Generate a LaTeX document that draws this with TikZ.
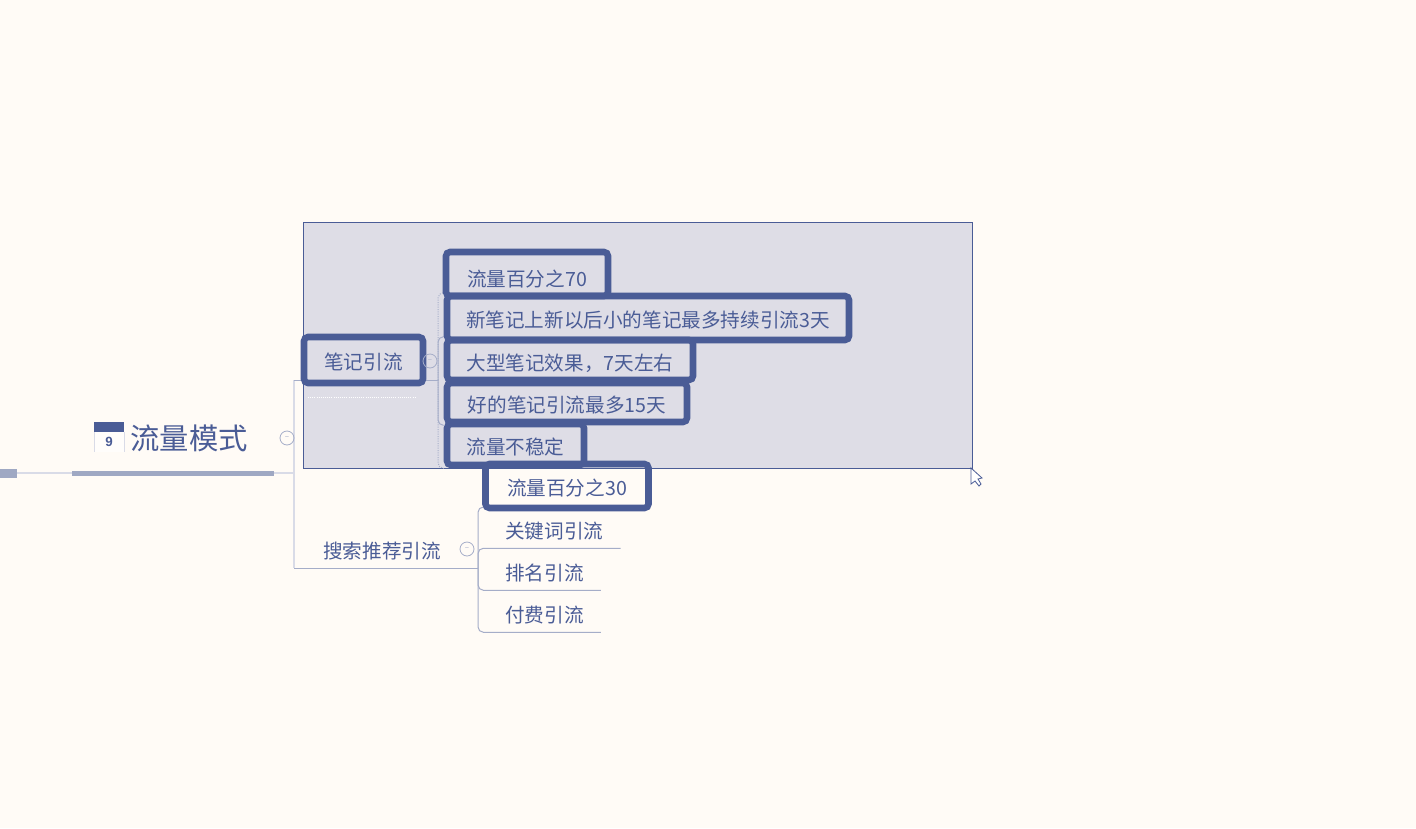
\documentclass[tikz,border=0pt]{standalone}
\usepackage{fontspec}
\setmainfont{Noto Sans CJK SC}
\newfontfamily\iconfont{Liberation Sans}
\usetikzlibrary{backgrounds}
\definecolor{pagebg}{HTML}{FFFBF6}
\definecolor{ink}{HTML}{4A5C96}
\definecolor{framefill}{HTML}{DEDDE6}
\definecolor{barblue}{HTML}{9FA8C3}
\definecolor{lightline}{HTML}{D9DBE7}
\definecolor{midline}{HTML}{A5ADC8}
\newcommand{\pxu}{0.75pt}
\tikzset{
  topic/.style={text=ink,font=\fontsize{14.7}{18}\selectfont,inner sep=0pt,text height=13.5pt,text depth=1pt},
  hbox/.style={topic,draw=ink,line width=4.9pt,rounded corners=3pt,text height=15.5pt},
  leaf/.style={topic,anchor=west,inner xsep=17*\pxu,minimum height=36*\pxu},
  btn/.style={circle,draw=midline,line width=0.6pt,text=midline,minimum size=14*\pxu,inner sep=0pt,font=\fontsize{6}{6}\selectfont},
  branch/.style={draw=midline,line width=0.75pt,rounded corners=4pt},
  trunk/.style={draw=lightline,line width=0.9pt}
}
\begin{document}
\begin{tikzpicture}[x=0.75pt,y=-0.75pt]
\useasboundingbox (0,0) rectangle (1416,828);
% boxes of the first branch
\node[hbox,minimum width=162*\pxu,minimum height=44*\pxu,text height=19.5pt] (pctseven) at (527,274) {流量百分之70};
\node[hbox,minimum width=402*\pxu,minimum height=44*\pxu] (newnote) at (648,318) {新笔记上新以后小的笔记最多持续引流3天};
\node[hbox,minimum width=246*\pxu,minimum height=40*\pxu,text height=16.5pt] (bignote) at (570,360) {大型笔记效果，7天左右};
\node[hbox,minimum width=240*\pxu,minimum height=39*\pxu] (goodnote) at (567,402.5) {好的笔记引流最多15天};
\node[hbox,minimum width=137*\pxu,minimum height=41*\pxu] (unstable) at (515.5,444.5) {流量不稳定};
\node[hbox,minimum width=119*\pxu,minimum height=46*\pxu] (notes) at (363.5,360) {笔记引流};
\node[hbox,minimum width=163*\pxu,minimum height=44*\pxu] (pctthree) at (567,486) {流量百分之30};
% second branch
\node[topic] (search) at (382,550) {搜索推荐引流};
\node[leaf] (keyword) at (488,530) {关键词引流};
\node[leaf] (ranking) at (488,572) {排名引流};
\node[leaf] (paid) at (488,614) {付费引流};
% root
\node[topic,font=\fontsize{22}{26}\selectfont,text height=20pt,text depth=2pt] (root) at (189,437) {流量模式};
\node[fill=ink,minimum width=30*\pxu,minimum height=10*\pxu,inner sep=0pt] (calbar) at (109,427) {};
\node[text=ink,inner sep=0pt,font=\iconfont\bfseries\fontsize{10}{10}\selectfont] (calday) at (109,442) {9};
% collapse buttons
\node[btn] (btnroot) at (287,438) {--};
\node[btn] (btnnotes) at (430,361) {--};
\node[btn] (btnsearch) at (467,549) {--};
\coordinate (rootstart) at (0,473);
\coordinate (barleft) at (72,473);
\coordinate (barright) at (274,473);
\coordinate (rootend) at (294,473);
\coordinate (notefork) at (438,380);
\coordinate (searchfork) at (478,567);
\coordinate (keytop) at (488,507);
\begin{scope}[on background layer]
\fill[pagebg] (0,0) rectangle (1416,828);
\fill[framefill] (303.5,222) rectangle (972,468);
\draw[ink,line width=0.75pt] (303.5,222) rectangle (972,468);
\fill[white!60!pagebg] (94,427) rectangle (124,452);
\draw[lightline,line width=0.6pt] (94,432) -- (94,452) (124,432) -- (124,452);
\draw[trunk] (rootstart) -- (rootend);
\draw[trunk] (294,380) -- (294,568);
\draw[midline,line width=0.75pt] (294,380) -- (notefork);
\draw[midline,line width=0.75pt] (294,568) -- (478,568);
\draw[branch,densely dotted] (notefork) |- (newnote.north west);
\draw[branch,densely dotted] (notefork) |- (unstable.south west);
\draw[branch] (notefork) |- (bignote.north west);
\draw[branch] (notefork) |- (goodnote.south west);
\draw[branch] (searchfork) |- (keytop);
\draw[branch] (searchfork) |- (keyword.south east);
\draw[branch] (searchfork) |- (ranking.south east);
\draw[branch] (searchfork) |- (paid.south east);
\end{scope}
\draw[barblue,line width=3.75pt] (barleft) -- (barright);
\fill[barblue] (0,469) rectangle (17,478);
\draw[white,densely dotted,line width=0.6pt] (308,397) -- (415,397);
% mouse pointer
\draw[ink,fill=white,line width=0.6pt] (971,468) -- (971,484) -- (975,481) -- (979,486) -- (981,484) -- (978,479) -- (982,478) -- cycle;
\end{tikzpicture}
\end{document}
